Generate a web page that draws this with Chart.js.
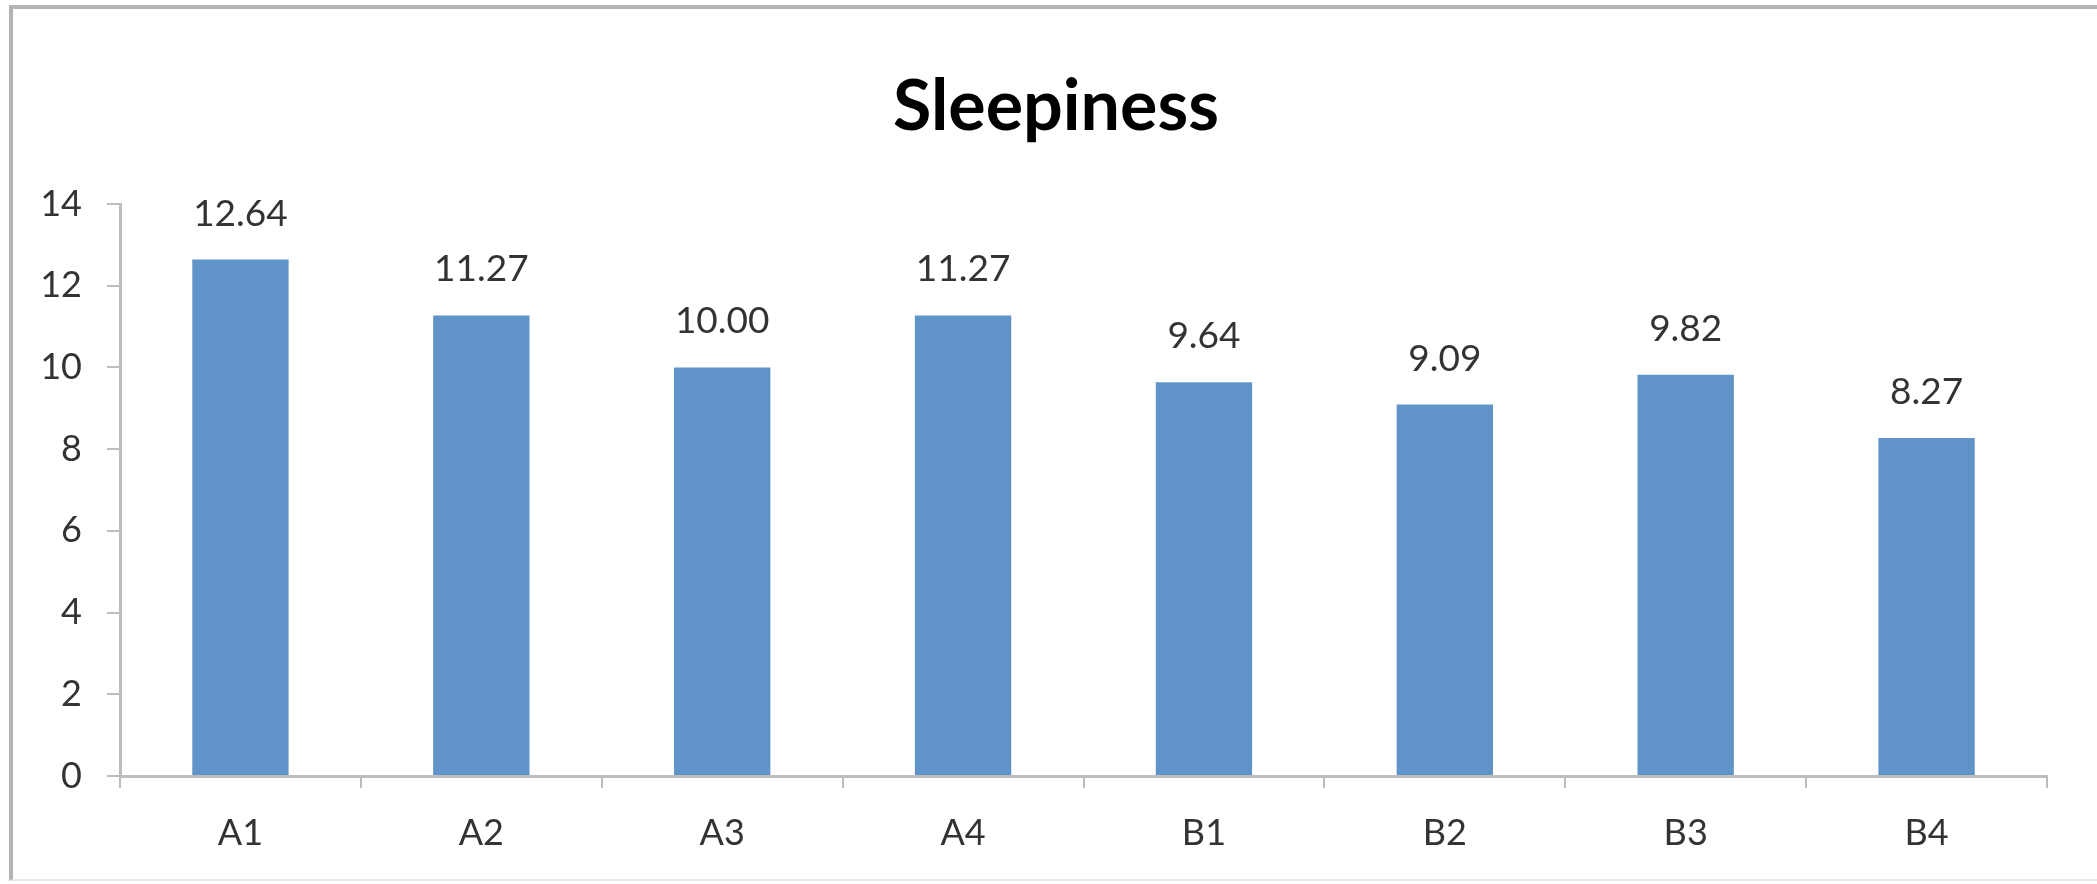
<!DOCTYPE html>
<html>
<head>
<meta charset="utf-8">
<title>Sleepiness</title>
<script src="https://cdn.jsdelivr.net/npm/chart.js@4/dist/chart.umd.min.js"></script>
<style>
  html, body { margin: 0; padding: 0; background: #ffffff; }
  body { width: 2097px; height: 884px; position: relative; overflow: hidden; }
  #frame {
    position: absolute; left: 9px; top: 5px; right: -10px; bottom: 3px;
    border-left: 4px solid #b4b4b4;
    border-top: 4px solid #b4b4b4;
    border-bottom: 2px solid #e8e8e8;
    box-sizing: border-box;
  }
  #wrap { position: absolute; left: 0; top: 0; width: 2097px; height: 884px; }
</style>
</head>
<body>
<div id="frame"></div>
<div id="wrap"><canvas id="chart" width="2097" height="884"></canvas></div>
<script>
// Sleepiness score per condition
const categories = ['A1', 'A2', 'A3', 'A4', 'B1', 'B2', 'B3', 'B4'];
const sleepiness = [12.64, 11.27, 10.00, 11.27, 9.64, 9.09, 9.82, 8.27];
const yTicks = [0, 2, 4, 6, 8, 10, 12, 14];

const FONT = 'Lato, "Open Sans", sans-serif';
const TEXT = '#333333';
const AXIS = '#bdbdbd';

// Value labels above each bar, placed from the bar elements themselves
const barValueLabels = {
  id: 'barValueLabels',
  afterDatasetsDraw(chart) {
    const ctx = chart.ctx;
    const meta = chart.getDatasetMeta(0);
    const values = chart.data.datasets[0].data;
    ctx.save();
    ctx.font = '37px ' + FONT;
    ctx.fillStyle = TEXT;
    ctx.textAlign = 'center';
    ctx.textBaseline = 'middle';
    meta.data.forEach((bar, i) => {
      ctx.fillText(values[i].toFixed(2), bar.x, bar.y - 46);
    });
    ctx.restore();
  }
};

function draw() {
  new Chart(document.getElementById('chart'), {
    type: 'bar',
    data: {
      labels: categories,
      datasets: [{
        label: 'Sleepiness',
        data: sleepiness,
        backgroundColor: 'rgb(96,148,200)',
        borderWidth: 0,
        categoryPercentage: 1.0,
        barPercentage: 0.4,
        yAxisID: 'y'
      }]
    },
    options: {
      responsive: false,
      animation: false,
      layout: { padding: { left: 40, right: 25, top: 0, bottom: 8 } },
      plugins: {
        legend: { display: false },
        tooltip: { enabled: false },
        title: {
          display: true,
          text: 'Sleepiness',
          color: '#000000',
          font: { family: FONT, size: 70, weight: 'bold', lineHeight: 1.2 },
          padding: { top: 65, bottom: 55 }
        }
      },
      scales: {
        x: {
          offset: true,
          grid: {
            offset: true,
            drawOnChartArea: false,
            drawTicks: true,
            tickLength: 12,
            color: AXIS,
            lineWidth: 2
          },
          border: { display: true, color: AXIS, width: 3 },
          ticks: {
            color: TEXT,
            font: { family: FONT, size: 36 },
            padding: 24
          },
          afterFit(scale) { scale.height = 100; }
        },
        y: {
          position: 'left',
          min: 0,
          max: 14,
          afterBuildTicks(scale) {
            scale.ticks = yTicks.map(v => ({ value: v }));
          },
          grid: {
            drawOnChartArea: false,
            drawTicks: true,
            tickLength: 13,
            color: AXIS,
            lineWidth: 2
          },
          border: { display: true, color: AXIS, width: 3 },
          ticks: {
            color: TEXT,
            font: { family: FONT, size: 36 },
            padding: 25
          },
          afterFit(scale) { scale.width = 80; }
        },
        // empty right-hand margin strip, keeps the plot clear of the frame edge
        yRight: {
          position: 'right',
          min: 0,
          max: 14,
          grid: { display: false },
          border: { display: false },
          ticks: { display: false },
          afterFit(scale) { scale.width = 25; }
        }
      }
    },
    plugins: [barValueLabels]
  });
}

Promise.all([
  document.fonts.load('36px Lato'),
  document.fonts.load('bold 70px Lato')
]).then(draw, draw);
</script>
</body>
</html>
